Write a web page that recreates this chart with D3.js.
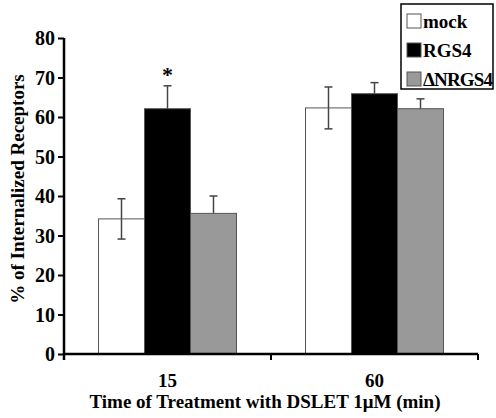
<!DOCTYPE html>
<html>
<head>
<meta charset="utf-8">
<script src="https://cdn.jsdelivr.net/npm/d3@7"></script>
<style>
  body { margin: 0; background: #fff; }
  text { font-family: "Liberation Serif", "Times New Roman", serif; font-weight: bold; }
</style>
</head>
<body>
<svg id="chart" width="496" height="418"></svg>
<script>
// data
var categories = ["15", "60"];
var series = ["mock", "RGS4", "\u0394NRGS4"];
var seriesFill = ["#ffffff", "#000000", "#999999"];
var means = [
  [34.2, 62.1, 35.6],
  [62.3, 65.9, 62.1]
];
var errors = [
  [5.1, 5.8, 4.4],
  [5.3, 2.8, 2.5]
];
var yTicks = [0, 10, 20, 30, 40, 50, 60, 70, 80];
var significant = [[false, true, false], [false, false, false]];

var svg = d3.select("#chart");

var y = d3.scaleLinear().domain([0, 80]).range([354, 38]);
var x0 = d3.scaleBand().domain(categories).range([64, 478]).padding(0);
var x1 = d3.scaleBand().domain(series).range([0, x0.bandwidth()])
  .paddingInner(0).paddingOuter(0.75);

// bars
var groups = svg.selectAll("g.grp")
  .data(categories)
  .enter().append("g")
  .attr("class", "grp")
  .attr("transform", function(d) { return "translate(" + x0(d) + ",0)"; });

groups.each(function(cat, ci) {
  var g = d3.select(this);
  var rows = series.map(function(s, si) {
    return {s: s, v: means[ci][si], e: errors[ci][si], fill: seriesFill[si], star: significant[ci][si]};
  });
  var cx = function(d) { return x1(d.s) + x1.bandwidth() / 2; };

  // error bars (drawn first, bar covers the lower half)
  var eb = g.selectAll("g.err").data(rows).enter().append("g").attr("class", "err");
  eb.append("line")
    .attr("x1", cx).attr("x2", cx)
    .attr("y1", function(d) { return y(d.v - d.e); })
    .attr("y2", function(d) { return y(d.v + d.e); })
    .attr("stroke", "#444").attr("stroke-width", 1.5);
  [1, -1].forEach(function(sgn) {
    eb.append("line")
      .attr("x1", function(d) { return cx(d) - 4; })
      .attr("x2", function(d) { return cx(d) + 4; })
      .attr("y1", function(d) { return y(d.v + sgn * d.e); })
      .attr("y2", function(d) { return y(d.v + sgn * d.e); })
      .attr("stroke", "#444").attr("stroke-width", 1.5);
  });

  g.selectAll("rect").data(rows).enter().append("rect")
    .attr("x", function(d) { return x1(d.s); })
    .attr("y", function(d) { return y(d.v); })
    .attr("width", x1.bandwidth())
    .attr("height", function(d) { return y(0) - y(d.v); })
    .attr("fill", function(d) { return d.fill; })
    .attr("fill-opacity", function(d) { return d.fill == "#ffffff" ? 0 : 1; })
    .attr("stroke", "#555").attr("stroke-width", 1);

  g.selectAll("text.star").data(rows.filter(function(d) { return d.star; }))
    .enter().append("text")
    .attr("class", "star")
    .attr("x", cx)
    .attr("y", function(d) { return y(d.v + d.e) - 4; })
    .attr("text-anchor", "middle")
    .attr("font-size", 22)
    .text("*");
});

// y axis
var yAxis = d3.axisLeft(y).tickValues(yTicks).tickSize(6).tickPadding(3);
var yg = svg.append("g").attr("transform", "translate(64,0)").call(yAxis);
yg.select(".domain").attr("stroke-width", 2.5).attr("d", "M0," + y(80) + "V" + (y(0) + 6));
yg.selectAll(".tick line").attr("stroke-width", 2);
yg.selectAll(".tick text")
  .attr("font-size", 20)
  .attr("font-family", "Liberation Serif, serif")
  .attr("font-weight", "bold")
  .attr("fill", "#000")
  .attr("dy", "0.33em");

// x axis
var xg = svg.append("g").attr("transform", "translate(0," + y(0) + ")");
xg.append("line")
  .attr("x1", x0.range()[0]).attr("x2", x0.range()[1])
  .attr("stroke", "#000").attr("stroke-width", 2.5);
xg.selectAll("line.tk")
  .data(categories.slice(1).map(function(c) { return x0(c); }).concat([x0.range()[1]]))
  .enter().append("line")
  .attr("class", "tk")
  .attr("x1", function(d) { return d; }).attr("x2", function(d) { return d; })
  .attr("y1", 0).attr("y2", 6)
  .attr("stroke", "#000").attr("stroke-width", 2);
xg.selectAll("text")
  .data(categories).enter().append("text")
  .attr("x", function(d) { return x0(d) + x0.bandwidth() / 2; })
  .attr("y", 33)
  .attr("text-anchor", "middle")
  .attr("font-size", 19)
  .text(function(d) { return d; });

// axis titles
svg.append("text")
  .attr("x", 265).attr("y", 408)
  .attr("text-anchor", "middle")
  .attr("font-size", 19)
  .text("Time of Treatment with DSLET 1\u03BCM (min)");

svg.append("text")
  .attr("transform", "translate(24,189) rotate(-90)")
  .attr("text-anchor", "middle")
  .attr("font-size", 19)
  .text("% of Internalized Receptors");

// legend
var legend = svg.append("g");
legend.append("rect")
  .attr("x", 401).attr("y", 4).attr("width", 92).attr("height", 85)
  .attr("fill", "#fff").attr("stroke", "#000").attr("stroke-width", 1.5);
var items = legend.selectAll("g.item").data(series).enter().append("g")
  .attr("class", "item")
  .attr("transform", function(d, i) { return "translate(407," + (21 + i * 29) + ")"; });
items.append("rect")
  .attr("x", 0).attr("y", -7).attr("width", 14).attr("height", 14)
  .attr("fill", function(d, i) { return seriesFill[i]; })
  .attr("stroke", "#555").attr("stroke-width", 1);
items.append("text")
  .attr("x", 16).attr("y", 7)
  .attr("font-size", 19)
  .attr("textLength", function(d) { return d.length > 5 ? 70 : null; })
  .text(function(d) { return d; });
</script>
</body>
</html>
